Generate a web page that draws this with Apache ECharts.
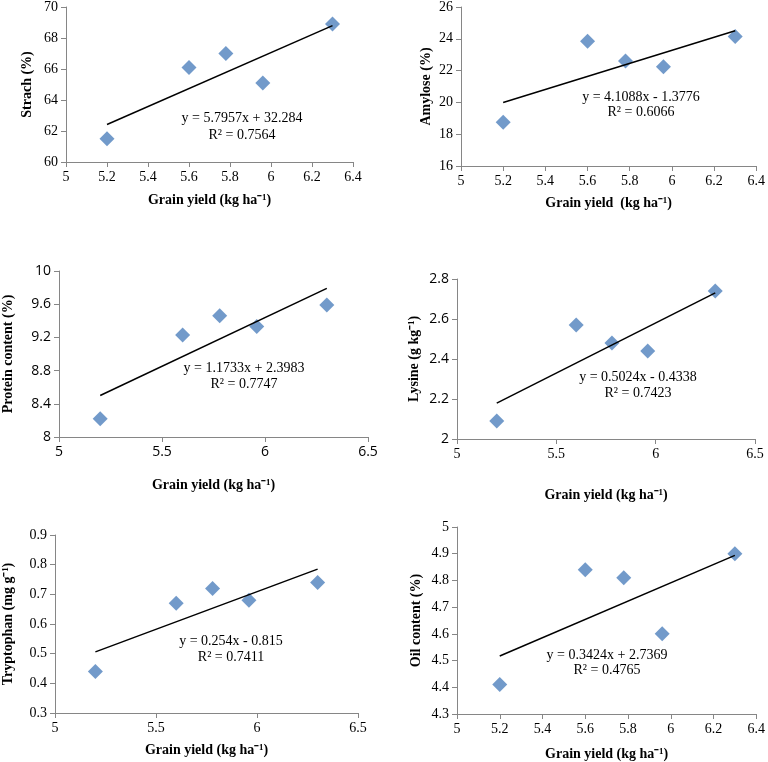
<!DOCTYPE html>
<html><head><meta charset="utf-8">
<script src="https://cdn.jsdelivr.net/npm/echarts@6/dist/echarts.min.js"></script>
<style>html,body{margin:0;padding:0;background:#fff}#c{width:768px;height:762px}</style>
</head><body><div id="c"></div>
<script>
// Shared x values (grain yield)
const grainYield = [5.2, 5.6, 5.78, 5.96, 6.3];
// Series values
const starch = [61.5, 66.1, 67.0, 65.1, 68.9];
const amylose = [18.75, 23.85, 22.6, 22.25, 24.15];
const protein = [8.22, 9.23, 9.46, 9.33, 9.59];
const lysine = [2.09, 2.57, 2.48, 2.44, 2.74];
const tryptophan = [0.44, 0.67, 0.72, 0.68, 0.74];
const oil = [4.41, 4.84, 4.81, 4.60, 4.90];
// Trendline endpoints (x = 5.2 and 6.3)
const trendX = [5.2, 6.3];
const starchTrend = [62.42, 68.80];
const amyloseTrend = [19.99, 24.51];
const proteinTrend = [8.50, 9.79];
const lysineTrend = [2.179, 2.731];
const tryptophanTrend = [0.506, 0.785];
const oilTrend = [4.517, 4.894];
// Equation labels
const equations = ["y = 5.7957x + 32.284", "y = 4.1088x - 1.3776", "y = 1.1733x + 2.3983", "y = 0.5024x - 0.4338", "y = 0.254x - 0.815", "y = 0.3424x + 2.7369"];
const rSquared = ["R² = 0.7564", "R² = 0.6066", "R² = 0.7747", "R² = 0.7423", "R² = 0.7411", "R² = 0.4765"];
// Axis titles
const yTitles = ["Strach (%)", "Amylose (%)", "Protein content (%)", "Lysine (g kg⁻¹)", "Tryptophan (mg g⁻¹)", "Oil content (%)"];
const xTitles = ["Grain yield (kg ha⁻¹)", "Grain yield  (kg ha⁻¹)", "Grain yield (kg ha⁻¹)", "Grain yield (kg ha⁻¹)", "Grain yield (kg ha⁻¹)", "Grain yield (kg ha⁻¹)"];
// Axis ranges
const yMin = [60, 16, 8, 2, 0.3, 4.3];
const yMax = [70, 26, 10, 2.8, 0.9, 5];
const yStep = [2, 2, 0.4, 0.2, 0.1, 0.1];
const xMin = [5, 5, 5, 5, 5, 5];
const xMax = [6.4, 6.4, 6.5, 6.5, 6.5, 6.4];
const xStep = [0.2, 0.2, 0.5, 0.5, 0.5, 0.2];

const seriesVals = [starch, amylose, protein, lysine, tryptophan, oil];
const trendVals = [starchTrend, amyloseTrend, proteinTrend, lysineTrend, tryptophanTrend, oilTrend];

// Layout (pixels)
const grids = [
  {left: 66, top: 7, width: 287, height: 155},
  {left: 461, top: 7, width: 298, height: 159},
  {left: 59, top: 271, width: 309, height: 166},
  {left: 457, top: 279, width: 298, height: 160},
  {left: 55, top: 535, width: 303, height: 178},
  {left: 457, top: 527, width: 303, height: 188}
];
const yGap = [32, 28, 44, 36, 40, 34];
const xGap = [31, 30, 41, 49, 30, 33];
const yLabelFont = ['serif','serif','sans','sans','serif','serif'];
const xLabelFont = ['serif','serif','sans','serif','serif','serif'];
const eqPos = [[242,118,135],[641,97,112],[244,368,384],[638,377,393],[231,641,657],[607,655,670]];

const SERIF = '"Liberation Serif", "Times New Roman", serif';
const SANS = '"Open Sans", "Liberation Sans", sans-serif';
const axisColor = '#868686';

const option = {animation: false, backgroundColor: '#fff', grid: [], xAxis: [], yAxis: [], series: [], graphic: []};
for (let i = 0; i < 6; i++) {
  option.grid.push(Object.assign({}, grids[i]));
  option.xAxis.push({
    type: 'value', gridIndex: i, min: xMin[i], max: xMax[i], interval: xStep[i],
    name: xTitles[i], nameLocation: 'middle', nameGap: xGap[i],
    nameTextStyle: {fontFamily: SERIF, fontWeight: 'bold', fontSize: 14, color: '#000'},
    axisLine: {show: true, onZero: false, lineStyle: {color: axisColor, width: 1}},
    axisTick: {show: true, length: 5, lineStyle: {color: axisColor}},
    axisLabel: {fontFamily: xLabelFont[i] === 'serif' ? SERIF : SANS, fontSize: 14, color: '#000', margin: 8},
    splitLine: {show: false}
  });
  option.yAxis.push({
    type: 'value', gridIndex: i, min: yMin[i], max: yMax[i], interval: yStep[i],
    name: yTitles[i], nameLocation: 'middle', nameGap: yGap[i], nameRotate: 90,
    nameTextStyle: {fontFamily: SERIF, fontWeight: 'bold', fontSize: 14, color: '#000'},
    axisLine: {show: true, onZero: false, lineStyle: {color: axisColor, width: 1}},
    axisTick: {show: true, length: 5, lineStyle: {color: axisColor}},
    axisLabel: {fontFamily: yLabelFont[i] === 'serif' ? SERIF : SANS, fontSize: 14, color: '#000', margin: 8},
    splitLine: {show: false}
  });
  option.series.push({
    type: 'line', xAxisIndex: i, yAxisIndex: i,
    data: trendX.map((x, k) => [x, trendVals[i][k]]),
    symbol: 'none', lineStyle: {color: '#000', width: 1.5}, silent: true, z: 3
  });
  option.series.push({
    type: 'scatter', xAxisIndex: i, yAxisIndex: i,
    data: grainYield.map((x, k) => [x, seriesVals[i][k]]),
    symbol: 'diamond', symbolSize: [15, 15],
    itemStyle: {color: '#4F81BD'}, z: 2
  });
  option.graphic.push({
    type: 'text', left: eqPos[i][0], top: eqPos[i][1], z: 10,
    style: {text: equations[i], font: '14px ' + SERIF, fill: '#000', textAlign: 'center', textVerticalAlign: 'middle'}
  });
  option.graphic.push({
    type: 'text', left: eqPos[i][0], top: eqPos[i][2], z: 10,
    style: {text: rSquared[i], font: '14px ' + SERIF, fill: '#000', textAlign: 'center', textVerticalAlign: 'middle'}
  });
}
// graphic left/top refer to bounding box; switch to x/y for center placement
option.graphic = option.graphic.map(g => ({type: 'text', x: g.left, y: g.top, z: 10, style: g.style}));
const chart = echarts.init(document.getElementById('c'), null, {renderer: 'canvas'});
chart.setOption(option);
</script></body></html>
